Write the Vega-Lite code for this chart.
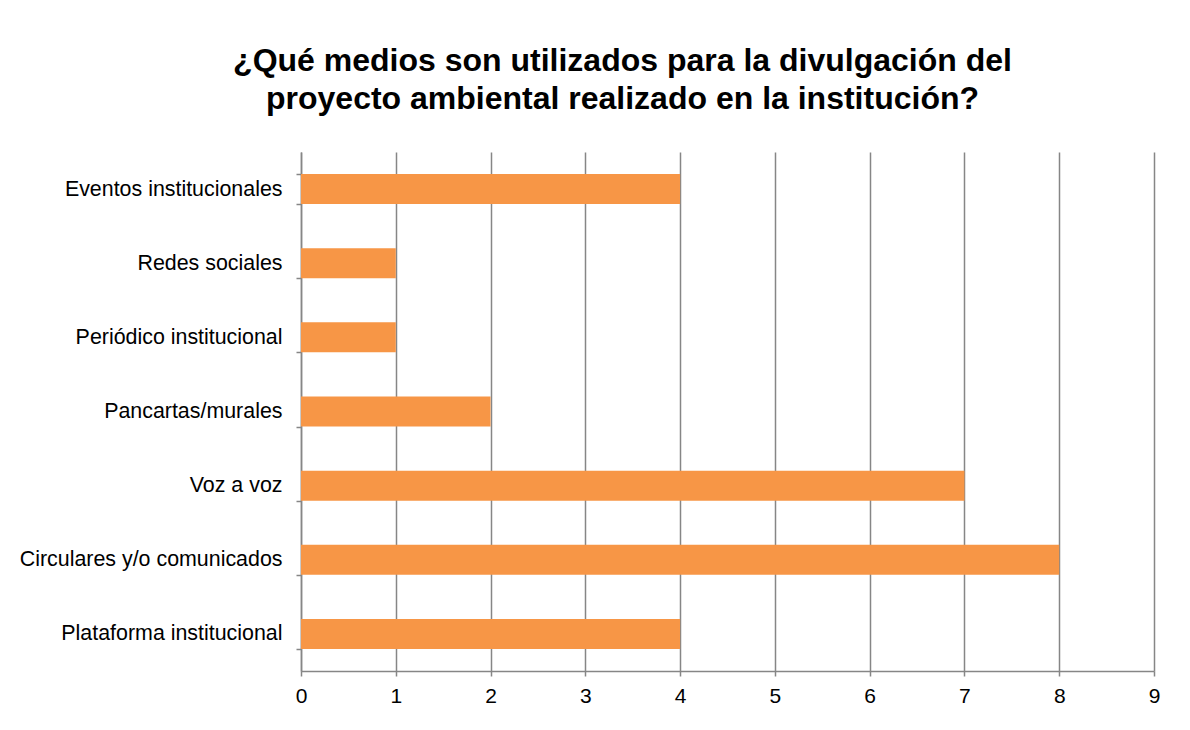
{
  "$schema": "https://vega.github.io/schema/vega-lite/v6.json",
  "autosize": "none",
  "width": 853,
  "height": 519,
  "padding": {"left": 301, "top": 152, "right": 36, "bottom": 59},
  "background": "white",
  "title": {
    "text": ["¿Qué medios son utilizados para la divulgación del", "proyecto ambiental realizado en la institución?"],
    "font": "Liberation Sans",
    "fontSize": 32,
    "fontWeight": "bold",
    "color": "#000000",
    "lineHeight": 38,
    "anchor": "middle",
    "frame": "group",
    "dx": -105,
    "offset": 25
  },
  "data": {
    "values": [
      {"medio": "Eventos institucionales", "cantidad": 4},
      {"medio": "Redes sociales", "cantidad": 1},
      {"medio": "Periódico institucional", "cantidad": 1},
      {"medio": "Pancartas/murales", "cantidad": 2},
      {"medio": "Voz a voz", "cantidad": 7},
      {"medio": "Circulares y/o comunicados", "cantidad": 8},
      {"medio": "Plataforma institucional", "cantidad": 4}
    ]
  },
  "mark": {"type": "bar", "color": "#F79646"},
  "encoding": {
    "y": {
      "field": "medio",
      "type": "nominal",
      "sort": null,
      "title": null,
      "scale": {"paddingInner": 0.595, "paddingOuter": 0.2975},
      "axis": {
        "tickBand": "extent",
        "tickSize": 5,
        "tickColor": "#868686",
        "tickWidth": 1.5,
        "domainColor": "#868686",
        "domainWidth": 1.5,
        "labelPadding": 14,
        "labelLimit": 400,
        "labelFont": "Liberation Sans",
        "labelFontSize": 21.4,
        "labelColor": "#000000",
        "grid": false
      }
    },
    "x": {
      "field": "cantidad",
      "type": "quantitative",
      "title": null,
      "scale": {"domain": [0, 9], "nice": false},
      "axis": {
        "values": [0, 1, 2, 3, 4, 5, 6, 7, 8, 9],
        "tickSize": 5,
        "tickColor": "#868686",
        "tickWidth": 1.5,
        "domainColor": "#868686",
        "domainWidth": 1.5,
        "grid": true,
        "gridColor": "#868686",
        "gridWidth": 1.5,
        "labelFlush": false,
        "labelPadding": 9,
        "labelFont": "Liberation Sans",
        "labelFontSize": 21,
        "labelColor": "#000000"
      }
    }
  },
  "config": {"view": {"stroke": null}}
}
